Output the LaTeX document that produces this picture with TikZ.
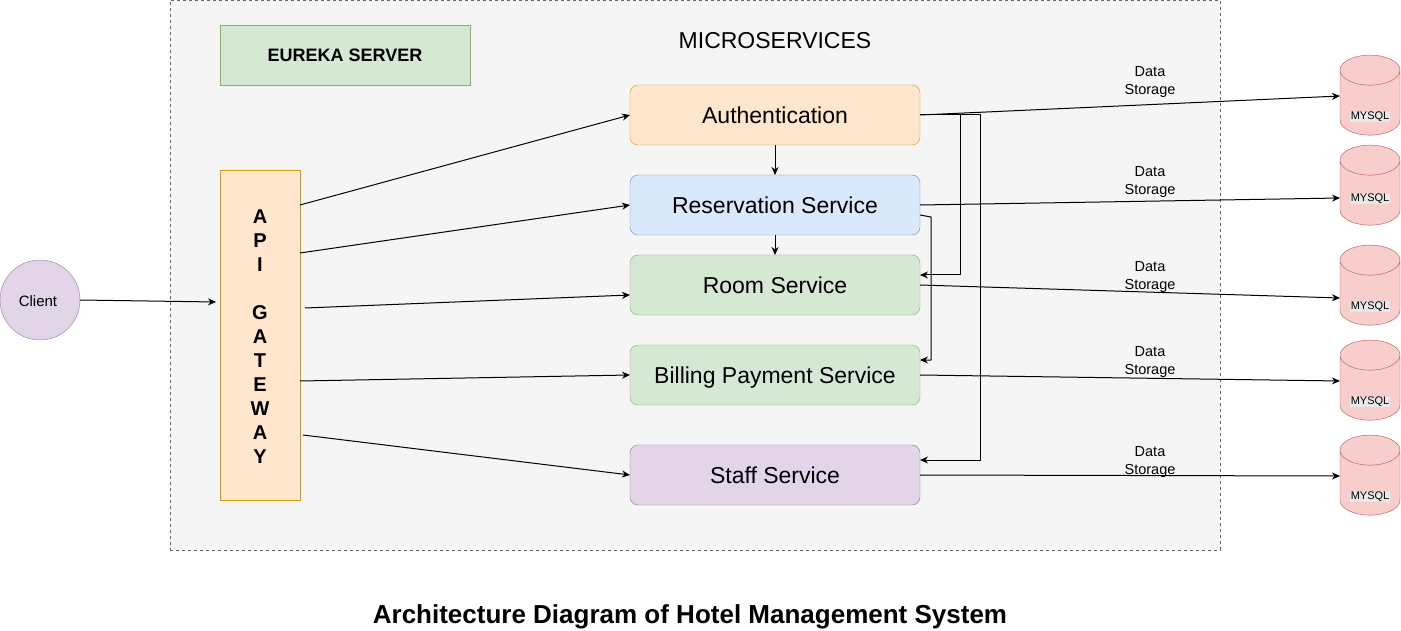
\documentclass[tikz,border=0pt]{standalone}
\usepackage{fontspec}
\setmainfont{Liberation Sans}
\usetikzlibrary{arrows.meta,shapes.geometric}
\definecolor{orangefill}{HTML}{FFE6CC}
\definecolor{orangeline}{HTML}{D79B00}
\definecolor{bluefill}{HTML}{DAE8FC}
\definecolor{blueline}{HTML}{6C8EBF}
\definecolor{greenfill}{HTML}{D5E8D4}
\definecolor{greenline}{HTML}{82B366}
\definecolor{purplefill}{HTML}{E1D5E7}
\definecolor{purpleline}{HTML}{9673A6}
\definecolor{redfill}{HTML}{F8CECC}
\definecolor{redline}{HTML}{B85450}
\definecolor{zonefill}{HTML}{F5F5F5}
\definecolor{zoneline}{HTML}{666666}
\tikzset{
  every picture/.style={line join=round, >={Stealth[length=8pt,width=7pt]}},
  service/.style={draw, rounded corners=8pt, minimum width=290pt, minimum height=60pt, inner sep=0pt, outer sep=0pt, text height=22pt, text depth=5pt, font=\fontsize{23}{27}\selectfont},
  mysql/.style={draw=redline, fill=redfill, cylinder, shape border rotate=90, shape aspect=5, minimum width=60pt, minimum height=80pt, inner sep=3pt, outer sep=0pt},
  mysqltext/.style={fill=black!9, inner sep=0.5pt, font=\fontsize{11}{12}\selectfont},
  storage/.style={align=center, inner sep=0pt, font=\fontsize{14.5}{18}\selectfont},
  link/.style={->, line width=1pt},
}
\begin{document}
\begin{tikzpicture}[x=1pt,y=-1pt]
\useasboundingbox (0,0) rectangle (1401,631);
\node[draw=zoneline, fill=zonefill, dashed, minimum width=1050pt, minimum height=550pt, inner sep=0pt] (zone) at (695,275) {};
\node[draw=greenline, fill=greenfill, minimum width=250pt, minimum height=60pt, inner sep=0pt, font=\bfseries\fontsize{18}{22}\selectfont] (eureka) at (345,55) {EUREKA SERVER};
\node[font=\fontsize{23}{27}\selectfont, inner sep=0pt] (microservices) at (775,41) {MICROSERVICES};
\node[draw=purpleline, fill=purplefill, circle, minimum size=80pt, inner sep=0pt, outer sep=0pt] (client) at (40,300) {};
\node[font=\fontsize{15}{18}\selectfont, inner sep=0pt] (clienttext) at (38,301) {Client};
\node[draw=orangeline, fill=orangefill, minimum width=80pt, minimum height=330pt, inner sep=0pt, outer sep=0pt] (gateway) at (260,335) {};
\node[align=center, inner sep=0pt, font=\bfseries\fontsize{20}{24}\selectfont] (gatewaytext) at (260,337) {A\\P\\I\\[24pt]G\\A\\T\\E\\W\\A\\Y};
% services
\node[service, draw=orangeline, fill=orangefill] (authentication) at (775,115) {Authentication};
\node[service, draw=blueline, fill=bluefill] (reservation) at (775,205) {Reservation Service};
\node[service, draw=greenline, fill=greenfill] (room) at (775,285) {Room Service};
\node[service, draw=greenline, fill=greenfill] (billing) at (775,375) {Billing Payment Service};
\node[service, draw=purpleline, fill=purplefill] (staff) at (775,475) {Staff Service};
% databases
\node[mysql] (mysqla) at (1370,106) {};
\node[mysql] (mysqlb) at (1370,196) {};
\node[mysql] (mysqlc) at (1370,296) {};
\node[mysql] (mysqld) at (1370,391) {};
\node[mysql] (mysqle) at (1370,486) {};
\node[mysqltext] (texta) at (1370,117) {MYSQL};
\node[mysqltext] (textb) at (1370,199) {MYSQL};
\node[mysqltext] (textc) at (1370,307) {MYSQL};
\node[mysqltext] (textd) at (1370,402) {MYSQL};
\node[mysqltext] (texte) at (1370,497) {MYSQL};
\node[storage] (storagea) at (1150,82.5) {Data\\Storage};
\node[storage] (storageb) at (1150,182.5) {Data\\Storage};
\node[storage] (storagec) at (1150,277.5) {Data\\Storage};
\node[storage] (storaged) at (1150,362.5) {Data\\Storage};
\node[storage] (storagee) at (1150,462.5) {Data\\Storage};
\node[font=\bfseries\fontsize{26}{30}\selectfont, inner sep=0pt] (title) at (690,617) {Architecture Diagram of Hotel Management System};
% gateway side
\draw[link] (client.east) -- ([xshift=-4pt,yshift=33pt]gateway.west);
\draw[link] ([yshift=130pt]gateway.east) -- (authentication.west);
\draw[link] ([yshift=82pt]gateway.east) -- (reservation.west);
\draw[link] ([xshift=5pt,yshift=27pt]gateway.east) -- ([yshift=-10pt]room.west);
\draw[link] ([yshift=-46pt]gateway.east) -- (billing.west);
\draw[link] ([xshift=3pt,yshift=-100pt]gateway.east) -- (staff.west);
% between services
\draw[link] (authentication.south) -- (reservation.north);
\draw[link] (reservation.south) -- (room.north);
\draw[link] (authentication.east) -- (960,115) -- (960,275) -- ([yshift=10pt]room.east);
\draw[link] (authentication.east) -- (980,115) -- (980,460) -- ([yshift=15pt]staff.east);
\draw[link] ([yshift=-10pt]reservation.east) -- (931,217) -- (931,360) -- ([yshift=15pt]billing.east);
% to the databases
\draw[link] (authentication.east) -- ([yshift=10pt]mysqla.west);
\draw[link] (reservation.east) -- ([yshift=-2pt]mysqlb.west);
\draw[link] (room.east) -- ([yshift=-2pt]mysqlc.west);
\draw[link] (billing.east) -- ([yshift=10pt]mysqld.west);
\draw[link] (staff.east) -- ([yshift=10pt]mysqle.west);
\end{tikzpicture}
\end{document}
